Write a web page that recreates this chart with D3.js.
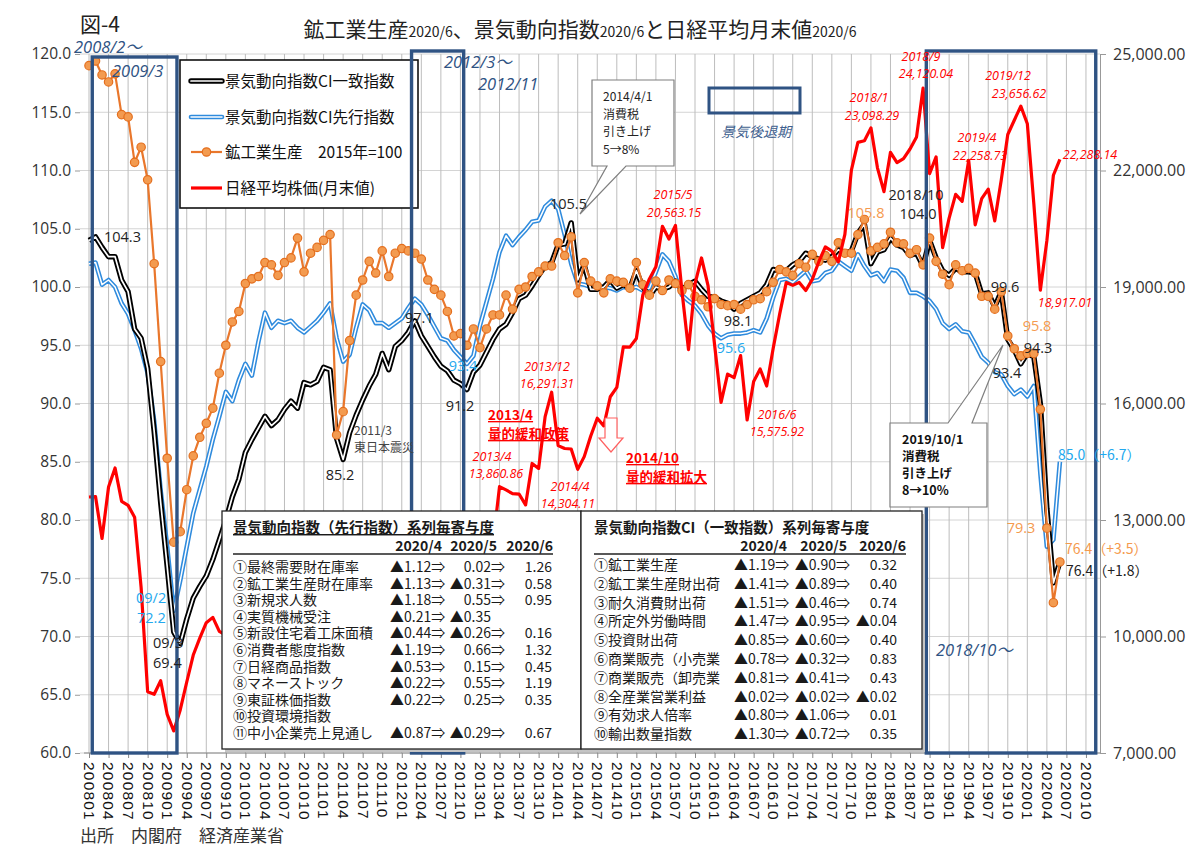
<!DOCTYPE html>
<html><head><meta charset="utf-8">
<script src="https://cdn.jsdelivr.net/npm/d3@7"></script>
<style>body{margin:0;background:#fff;}svg{display:block;}</style>
</head><body>
<svg id="chart" width="1200" height="856"></svg>
<script>
// ---------------- DATA ----------------
const categories = [];
for (let yy = 2008; yy <= 2020; yy++) for (let mm = 1; mm <= 12; mm++) categories.push(String(yy) + String(mm).padStart(2, "0"));
const tickLabels = categories.filter((d, i) => i % 3 === 0);
const leftTicks = [60, 65, 70, 75, 80, 85, 90, 95, 100, 105, 110, 115, 120];
const rightTicks = [7000, 10000, 13000, 16000, 19000, 22000, 25000];

// 景気動向指数CI一致指数 (2008/1 - 2020/6)
const ciCoincident = [
 104.0,104.3,103.4,102.6,102.6,100.6,99.6,96.4,95.6,93.0,87.6,81.5,
 76.0,70.4,69.4,71.5,73.3,74.3,75.2,76.6,78.3,80.0,82.0,83.5,
 85.8,86.9,87.9,88.9,88.1,88.6,89.5,90.2,89.6,91.8,91.6,91.9,
 93.1,92.9,87.0,85.2,87.5,89.0,90.3,91.5,92.5,94.3,92.9,94.9,
 95.4,96.1,97.1,95.8,94.9,94.0,93.2,92.8,92.0,91.7,91.2,92.7,
 93.3,94.4,95.5,96.4,96.8,97.8,99.0,99.3,100.1,101.0,101.8,102.1,
 103.6,103.7,105.5,100.6,101.9,99.8,99.8,100.0,100.6,99.9,100.2,99.9,
 101.4,100.0,99.2,100.0,99.8,100.0,100.5,99.8,100.2,100.5,99.8,99.2,
 99.1,98.8,98.6,98.1,98.6,98.9,99.2,99.5,100.2,101.5,101.4,101.4,
 101.9,102.2,102.9,102.6,102.4,102.3,102.6,103.2,102.9,103.1,104.6,105.4,
 102.0,103.0,103.2,104.2,103.6,103.4,102.7,102.9,101.8,104.0,102.5,101.4,
 101.0,101.6,101.3,101.3,101.2,99.4,99.5,98.3,99.6,95.5,94.6,93.4,
 94.3,94.0,90.0,81.0,74.6,76.4
];
// 景気動向指数CI先行指数
const ciLeading = [
 102.0,102.1,100.2,100.6,100.0,98.6,97.7,96.3,94.7,92.6,88.5,82.5,
 77.7,72.2,74.8,77.7,80.6,82.6,84.6,86.9,88.9,91.0,90.2,92.0,
 93.4,92.4,95.3,97.8,96.5,97.1,96.9,97.1,96.5,96.1,96.6,97.1,
 97.8,98.6,95.6,93.6,94.2,96.5,98.5,98.0,96.9,96.9,96.5,96.9,
 97.3,98.2,99.0,98.5,97.6,96.6,95.6,95.4,94.6,94.0,93.4,94.1,
 96.7,98.7,100.7,103.0,104.4,103.6,104.3,104.9,105.6,105.7,106.9,107.4,
 106.7,104.5,102.0,100.3,100.2,100.0,100.1,100.0,99.9,99.7,100.0,99.9,
 100.0,99.7,99.9,101.3,102.8,102.2,100.9,99.3,98.8,98.4,97.7,96.7,
 96.0,95.6,95.9,96.0,96.0,96.1,96.3,96.1,97.3,99.1,100.6,100.7,
 100.4,100.9,101.4,100.5,100.6,101.2,101.4,102.2,101.8,101.4,102.8,101.8,
 101.0,101.2,100.5,101.5,101.4,100.8,99.5,99.5,99.2,98.8,98.1,96.9,
 96.4,96.8,96.2,96.1,95.1,94.0,93.5,92.7,92.5,91.5,90.8,91.2,
 90.6,91.5,84.0,77.7,78.3,85.0
];
// 鉱工業生産 2015年=100
const iip = [
 119.0,119.4,118.2,117.6,118.3,114.8,114.6,110.7,112.0,109.2,102.0,93.6,
 85.3,78.1,79.0,82.6,85.5,87.1,88.3,89.6,92.6,95.0,97.0,97.9,
 100.3,100.7,100.9,102.1,101.9,101.0,102.1,102.5,104.2,101.3,102.9,103.4,
 104.0,104.5,87.3,89.3,95.4,99.3,100.6,102.2,101.2,103.1,100.9,102.9,
 103.3,103.1,102.9,102.4,100.6,99.8,99.3,97.9,95.8,96.0,95.0,96.4,
 94.8,96.4,97.6,97.6,99.3,98.1,99.8,100.0,100.9,101.3,101.8,101.8,
 103.8,102.7,104.3,99.5,102.1,100.5,100.1,99.5,100.7,100.5,100.4,99.9,
 102.1,100.2,99.3,100.5,99.7,100.6,100.3,99.7,100.2,99.2,98.9,98.3,
 99.0,98.5,98.4,98.5,98.1,98.5,98.9,99.0,99.6,100.4,101.5,101.3,
 101.0,102.0,101.7,102.8,102.2,102.7,102.2,103.8,102.9,102.9,104.5,105.8,
 103.1,103.4,103.7,104.7,103.8,103.7,102.9,103.2,101.9,104.2,102.2,101.1,
 100.2,101.9,101.4,101.6,101.2,99.2,99.2,98.1,99.6,95.8,94.7,94.1,
 94.3,94.3,89.5,79.3,72.9,76.4
];
// 日経平均株価(月末値)
const nikkei = [
 13592.47,13603.02,12525.54,13849.99,14338.54,13481.38,13376.81,13072.87,11259.86,8576.98,8512.27,8859.56,
 7994.05,7568.42,8109.53,8828.26,9522.50,9958.44,10356.83,10492.53,10133.23,10034.74,9345.55,10546.44,
 10198.04,10126.03,11089.94,11057.40,9768.70,9382.64,9537.30,8824.06,9369.35,9202.45,9937.04,10228.92,
 10237.92,10624.09,9755.10,9849.74,9693.73,9816.09,9833.03,8955.20,8700.29,8988.39,8434.61,8455.35,
 8802.51,9723.24,10083.56,9520.89,8542.73,9006.78,8695.06,8839.91,8870.16,8928.29,9446.01,10395.18,
 11138.66,11559.36,12397.91,13860.86,13774.54,13677.32,13668.32,13388.86,14455.80,14327.94,15661.87,16291.31,
 14914.53,14841.07,14827.83,14304.11,14632.38,15162.10,15620.77,15424.59,16173.52,16413.76,17459.85,17450.77,
 17674.39,18797.94,19206.99,19520.01,20563.15,20235.73,20585.24,18890.48,17388.15,19083.10,19747.47,19033.71,
 17518.30,16026.76,16758.67,16666.05,17234.98,15575.92,16569.27,16887.40,16449.84,17425.02,18308.48,19114.37,
 19041.34,19118.99,18909.26,19196.74,19650.57,20033.43,19925.18,19646.24,20356.28,22011.61,22724.96,22764.94,
 23098.29,22068.24,21454.30,22467.87,22201.82,22304.51,22553.72,22865.15,24120.04,21920.46,22351.06,20014.77,
 20773.49,21385.16,21205.81,22258.73,20601.19,21275.92,21521.53,20704.37,21755.84,22927.04,23293.91,23656.62,
 23205.18,21142.96,18917.01,20193.69,21877.89,22288.14
];
const recessionStart = ["200802", "201203", "201810"];
const recessionEnd = ["200903", "201211", "202012"];

const legendLabels = ["景気動向指数CI一致指数", "景気動向指数CI先行指数", "鉱工業生産　2015年=100", "日経平均株価(月末値)"];

const leadingNames = ["①最終需要財在庫率","②鉱工業生産財在庫率","③新規求人数","④実質機械受注","⑤新設住宅着工床面積","⑥消費者態度指数","⑦日経商品指数","⑧マネーストック","⑨東証株価指数","⑩投資環境指数","⑪中小企業売上見通し"];
const leadingApr = [-1.12,-1.13,-1.18,-0.21,-0.44,-1.19,-0.53,-0.22,-0.22,null,-0.87];
const leadingMay = [0.02,-0.31,0.55,-0.35,-0.26,0.66,0.15,0.55,0.25,null,-0.29];
const leadingJun = [1.26,0.58,0.95,null,0.16,1.32,0.45,1.19,0.35,null,0.67];
const coincNames = ["①鉱工業生産","②鉱工業生産財出荷","③耐久消費財出荷","④所定外労働時間","⑤投資財出荷","⑥商業販売（小売業","⑦商業販売（卸売業","⑧全産業営業利益","⑨有効求人倍率","⑩輸出数量指数"];
const coincApr = [-1.19,-1.41,-1.51,-1.47,-0.85,-0.78,-0.81,-0.02,-0.80,-1.30];
const coincMay = [-0.90,-0.89,-0.46,-0.95,-0.60,-0.32,-0.41,-0.02,-1.06,-0.72];
const coincJun = [0.32,0.40,0.74,-0.04,0.40,0.83,0.43,-0.02,0.01,0.35];
const tableHeaders = ["2020/4", "2020/5", "2020/6"];

// ---------------- STYLE / LAYOUT ----------------
const JP = "'Noto Sans CJK JP', sans-serif";
const NUM = "'Open Sans', 'Noto Sans CJK JP', sans-serif";
const C_BLACK = "#000", C_BLUE = "#2F8BDD", C_ORANGE = "#E9772C", C_RED = "#FF0000", C_BOX = "#2F5383";
const C_CYAN = "#23A8EE", C_ORLBL = "#F59A4E";

const svg = d3.select("#chart");
const plotL = 80, plotR = 1100, plotT = 54, plotB = 753;
const x = d3.scalePoint().domain(categories).range([89, 1099]);
const step = x.step();
const yL = d3.scaleLinear().domain([60, 120]).range([plotB, plotT]);
const yR = d3.scaleLinear().domain([7000, 25000]).range([plotB, plotT]);

// gridlines
svg.append("g").selectAll("line").data(leftTicks).join("line")
  .attr("x1", plotL).attr("x2", plotR).attr("y1", d => yL(d)).attr("y2", d => yL(d))
  .attr("stroke", "#d4d4d4").attr("stroke-width", 1);
svg.append("g").selectAll("line").data(tickLabels).join("line")
  .attr("x1", d => x(d)).attr("x2", d => x(d)).attr("y1", plotT).attr("y2", plotB)
  .attr("stroke", "#bdbdbd").attr("stroke-width", 1);

// axes
const gL = svg.append("g").attr("transform", `translate(${plotL},0)`)
  .call(d3.axisLeft(yL).tickValues(leftTicks).tickFormat(d3.format(".1f")).tickSize(5).tickSizeOuter(0));
gL.select(".domain").remove();
gL.selectAll("line").attr("stroke", "#999");
gL.selectAll("text").attr("font-family", NUM).attr("font-size", 15.5).attr("fill", "#333").attr("x", -9);

const gR = svg.append("g").attr("transform", `translate(${plotR},0)`)
  .call(d3.axisRight(yR).tickValues(rightTicks).tickFormat(d3.format(",.2f")).tickSize(6).tickSizeOuter(0));
gR.select(".domain").attr("stroke", "#999");
gR.selectAll("line").attr("stroke", "#999");
gR.selectAll("text").attr("font-family", NUM).attr("font-size", 16).attr("fill", "#333").attr("x", 13);

const gB = svg.append("g").attr("transform", `translate(0,${plotB})`)
  .call(d3.axisBottom(x).tickValues(tickLabels).tickSize(5).tickSizeOuter(0));
gB.select(".domain").attr("d", `M${plotL + 4},0H${plotR}`).attr("stroke", "#888");
gB.selectAll("line").attr("stroke", "#888");
gB.selectAll("text").attr("font-family", "'Liberation Sans', sans-serif").attr("font-size", 15.5)
  .attr("fill", "#111").attr("letter-spacing", 1.2)
  .attr("transform", "rotate(90)").attr("x", 9).attr("y", 0).attr("dy", "0.36em").attr("text-anchor", "start");

// series lines
const lineL = d3.line().x((d, i) => x(categories[i])).y(d => yL(d));
const lineR = d3.line().x((d, i) => x(categories[i])).y(d => yR(d));
const gLines = svg.append("g").attr("fill", "none").attr("stroke-linejoin", "round");
gLines.append("path").attr("d", lineL(ciLeading)).attr("stroke", C_BLUE).attr("stroke-width", 4.6);
gLines.append("path").attr("d", lineL(ciLeading)).attr("stroke", "#fff").attr("stroke-width", 1.5);
gLines.append("path").attr("d", lineL(ciCoincident)).attr("stroke", C_BLACK).attr("stroke-width", 5.4);
gLines.append("path").attr("d", lineL(ciCoincident)).attr("stroke", "#fff").attr("stroke-width", 1.7);
gLines.append("path").attr("d", lineL(iip)).attr("stroke", C_ORANGE).attr("stroke-width", 2.2);
svg.append("g").selectAll("circle").data(iip).join("circle")
  .attr("cx", (d, i) => x(categories[i])).attr("cy", d => yL(d)).attr("r", 4.2)
  .attr("fill", "#F39B50").attr("stroke", "#E46F1E").attr("stroke-width", 1.2);
svg.append("path").attr("fill", "none").attr("stroke-linejoin", "round")
  .attr("d", lineR(nikkei)).attr("stroke", C_RED).attr("stroke-width", 3.2);

// legend
const lg = svg.append("g");
lg.append("rect").attr("x", 180).attr("y", 60).attr("width", 238).attr("height", 148)
  .attr("fill", "#fff").attr("stroke", "#111").attr("stroke-width", 1.6);
const legY = [81, 117, 152, 188];
legendLabels.forEach((t, k) => {
  const yy = legY[k];
  if (k === 0) {
    lg.append("line").attr("x1", 191).attr("x2", 222).attr("y1", yy).attr("y2", yy).attr("stroke", "#000").attr("stroke-width", 5.4).attr("stroke-linecap", "round");
    lg.append("line").attr("x1", 191).attr("x2", 222).attr("y1", yy).attr("y2", yy).attr("stroke", "#fff").attr("stroke-width", 1.7).attr("stroke-linecap", "round");
  } else if (k === 1) {
    lg.append("line").attr("x1", 191).attr("x2", 222).attr("y1", yy).attr("y2", yy).attr("stroke", C_BLUE).attr("stroke-width", 4.6).attr("stroke-linecap", "round");
    lg.append("line").attr("x1", 191).attr("x2", 222).attr("y1", yy).attr("y2", yy).attr("stroke", "#fff").attr("stroke-width", 1.5).attr("stroke-linecap", "round");
  } else if (k === 2) {
    lg.append("line").attr("x1", 191).attr("x2", 222).attr("y1", yy).attr("y2", yy).attr("stroke", C_ORANGE).attr("stroke-width", 2.2);
    lg.append("circle").attr("cx", 206.5).attr("cy", yy).attr("r", 4.2).attr("fill", "#F39B50").attr("stroke", "#E46F1E").attr("stroke-width", 1.2);
  } else {
    lg.append("line").attr("x1", 191).attr("x2", 222).attr("y1", yy).attr("y2", yy).attr("stroke", C_RED).attr("stroke-width", 3.2);
  }
  lg.append("text").attr("x", 225).attr("y", yy + 5.5).text(t)
    .attr("font-family", JP).attr("font-size", 15.5).attr("fill", "#111");
});

// recession boxes
const boxTop = [57, 51, 51];
recessionStart.forEach((s, k) => {
  const x0 = x(s) - step / 2, x1 = x(recessionEnd[k]) - step / 2;
  svg.append("rect").attr("x", x0).attr("y", boxTop[k]).attr("width", x1 - x0).attr("height", plotB - boxTop[k])
    .attr("fill", "none").attr("stroke", C_BOX).attr("stroke-width", 3.4);
});
// 景気後退期 legend box
svg.append("rect").attr("x", 709).attr("y", 88).attr("width", 91).attr("height", 25)
  .attr("fill", "none").attr("stroke", C_BOX).attr("stroke-width", 3);

// tables
function fmt(v) { return v < 0 ? "▲" + Math.abs(v).toFixed(2) : v.toFixed(2); }
function drawTable(cfg) {
  const g = svg.append("g").attr("font-family", JP).attr("fill", "#1a1a1a");
  g.append("rect").attr("x", cfg.x + 3).attr("y", cfg.y + 3).attr("width", cfg.w).attr("height", cfg.h).attr("fill", "#c4c4c4");
  g.append("rect").attr("x", cfg.x).attr("y", cfg.y).attr("width", cfg.w).attr("height", cfg.h)
    .attr("fill", "#fff").attr("stroke", "#222").attr("stroke-width", 1.3);
  g.append("text").attr("x", cfg.tx).attr("y", cfg.y + 22).text(cfg.title)
    .attr("font-size", 14.5).attr("font-weight", "bold").attr("text-decoration", cfg.underline ? "underline" : null);
  tableHeaders.forEach((h, k) => {
    g.append("text").attr("x", cfg.hx[k]).attr("y", cfg.y + 40).attr("text-anchor", "end").text(h)
      .attr("font-size", 14).attr("font-weight", "bold");
  });
  g.append("line").attr("x1", cfg.tx).attr("x2", cfg.hx[2]).attr("y1", cfg.y + 43).attr("y2", cfg.y + 43)
    .attr("stroke", "#222").attr("stroke-width", 1.3);
  cfg.names.forEach((n, r) => {
    const yy = cfg.row0 + r * cfg.rowStep;
    g.append("text").attr("x", cfg.tx).attr("y", yy).text(n).attr("font-size", 14);
    const a = cfg.c1[r], b = cfg.c2[r], c = cfg.c3[r];
    if (a !== null) g.append("text").attr("x", cfg.cx[0]).attr("y", yy).text(fmt(a) + "⇒").attr("font-size", 14);
    if (b !== null) {
      const t = g.append("text").attr("x", cfg.cx[1]).attr("y", yy).attr("text-anchor", "end").attr("font-size", 14);
      t.append("tspan").text(fmt(b));
      t.append("tspan").text("⇒").attr("fill-opacity", c === null ? 0 : 1);
    }
    if (c !== null) g.append("text").attr("x", cfg.cx[2]).attr("y", yy).attr("text-anchor", "end").text(fmt(c)).attr("font-size", 14);
  });
}
drawTable({x: 222, y: 511, w: 359, h: 238, tx: 233, title: "景気動向指数（先行指数）系列毎寄与度", underline: true,
  hx: [442, 497, 553], cx: [390, 505, 552], row0: 572, rowStep: 16.6,
  names: leadingNames, c1: leadingApr, c2: leadingMay, c3: leadingJun});
drawTable({x: 581, y: 511, w: 341, h: 238, tx: 594, title: "景気動向指数CI（一致指数）系列毎寄与度", underline: false,
  hx: [787, 847, 906], cx: [734, 850, 897], row0: 570, rowStep: 18.8,
  names: coincNames, c1: coincApr, c2: coincMay, c3: coincJun});

// callouts
svg.append("path").attr("d", "M592,80H674V166H626L580,214L607,166H592Z")
  .attr("fill", "#fff").attr("stroke", "#7f7f7f").attr("stroke-width", 1.2);
["2014/4/1", "消費税", "引き上げ", "5→8%"].forEach((t, k) => {
  svg.append("text").attr("x", 603).attr("y", 101 + k * 17.5).text(t)
    .attr("font-family", JP).attr("font-size", 12).attr("fill", "#222");
});
svg.append("path").attr("d", "M890,423H948L1003,345L972,423H987V507H890Z")
  .attr("fill", "#fff").attr("stroke", "#7f7f7f").attr("stroke-width", 1.2);
["2019/10/1", "消費税", "引き上げ", "8→10%"].forEach((t, k) => {
  svg.append("text").attr("x", 902).attr("y", 444 + k * 17).text(t)
    .attr("font-family", JP).attr("font-size", 12.5).attr("font-weight", "bold").attr("fill", "#111");
});
// down arrow
svg.append("path").attr("d", "M605,418H617V438H623L611,452L599,438H605Z")
  .attr("fill", "#fff").attr("stroke", "#FF6060").attr("stroke-width", 1.2);

// ---------------- TEXT ANNOTATIONS ----------------
function txt(t, xx, yy, o) {
  const e = svg.append("text").attr("x", xx).attr("y", yy).text(t)
    .attr("font-family", o.ff || NUM).attr("font-size", o.fs || 14).attr("fill", o.c || "#222")
    .attr("text-anchor", o.a || "middle");
  if (o.it) e.attr("font-style", "italic");
  if (o.b) e.attr("font-weight", "bold");
  if (o.u) e.attr("text-decoration", "underline");
  return e;
}
// title
const title = svg.append("text").attr("x", 580).attr("y", 37).attr("text-anchor", "middle")
  .attr("font-family", JP).attr("fill", "#222");
[["鉱工業生産", 21], ["2020/6", 14], ["、景気動向指数", 21], ["2020/6", 14], ["と日経平均月末値", 21], ["2020/6", 14]]
  .forEach(([t, s]) => title.append("tspan").text(t).attr("font-size", s));
txt("図-4", 80, 32, {ff: JP, fs: 21, a: "start", c: "#222"});
txt("出所　内閣府　経済産業省", 80, 842, {ff: JP, fs: 17, a: "start", c: "#333"});

// blue italic period labels
const PB = {ff: NUM, fs: 16.5, it: true, c: C_BOX, a: "start"};
txt("2008/2～", 74, 53, PB);
txt("2009/3", 112, 77, PB);
txt("2012/3～", 444, 68, PB);
txt("2012/11", 478, 90, PB);
txt("2018/10～", 936, 656, PB);
txt("景気後退期", 721, 137, {ff: JP, fs: 14, it: true, c: "#3F5F8F", a: "start"});

// red Nikkei labels
const RI = {fs: 12.5, it: true, c: C_RED};
[["2018/9", 921, 61], ["24,120.04", 926, 78], ["2018/1", 869, 102], ["23,098.29", 872, 120],
 ["2019/4", 977, 142], ["22,258.73", 980, 160], ["2019/12", 1008, 80], ["23,656.62", 1019, 98],
 ["22,288.14", 1090, 159], ["18,917.01", 1065, 307], ["2015/5", 673, 199], ["20,563.15", 674, 217],
 ["2016/6", 777, 419], ["15,575.92", 777, 436], ["2013/12", 547, 371], ["16,291.31", 547, 388],
 ["2013/4", 492, 461], ["13,860.86", 496, 478], ["2014/4", 570, 491], ["14,304.11", 568, 508]]
 .forEach(([t, a, b]) => txt(t, a, b, RI));
const RB = {ff: JP, fs: 13.5, b: true, u: true, c: C_RED, a: "start"};
txt("2013/4", 488, 420, RB); txt("量的緩和政策", 488, 439, RB);
txt("2014/10", 626, 463, RB); txt("量的緩和拡大", 626, 482, RB);

// value labels
const BK = {fs: 14.5, c: "#222"};
txt("104.3", 104, 242, {...BK, a: "start"});
txt("85.2", 340, 480, BK);
txt("97.1", 405, 323, {...BK, a: "start"});
txt("91.2", 460, 411, BK);
txt("105.5", 550, 209, {...BK, a: "start"});
txt("98.1", 738, 326, BK);
txt("2018/10", 916, 200, BK);
txt("104.0", 918, 219, BK);
txt("99.6", 1005, 292, BK);
txt("94.3", 1038, 353, BK);
txt("93.4", 1007, 378, BK);
txt("76.4（+1.8）", 1066, 576, {...BK, a: "start", ff: JP, fs: 14});
txt("09/3", 153, 648, {...BK, a: "start"});
txt("69.4", 153, 668, {...BK, a: "start"});
const OR = {fs: 14.5, c: C_ORLBL};
txt("105.8", 866, 218, OR);
txt("95.8", 1037, 331, OR);
txt("79.3", 1021, 533, OR);
txt("76.4（+3.5）", 1065, 554, {...OR, a: "start", ff: JP, fs: 14});
const CY = {fs: 14.5, c: C_CYAN};
txt("93.4", 463, 371, CY);
txt("95.6", 731, 353, CY);
txt("85.0（+6.7）", 1058, 460, {...CY, a: "start", ff: JP, fs: 14});
txt("09/2", 136, 603, {...CY, a: "start"});
txt("72.2", 137, 623, {...CY, a: "start"});
txt("2011/3", 354, 435, {ff: JP, fs: 12, c: "#444", a: "start"});
txt("東日本震災", 354, 452, {ff: JP, fs: 12, c: "#444", a: "start"});
</script>
</body></html>
